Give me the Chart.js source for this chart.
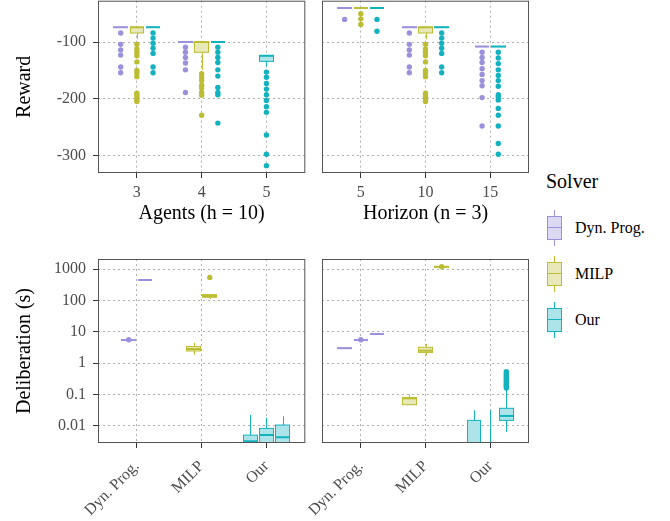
<!DOCTYPE html>
<html>
<head>
<meta charset="utf-8">
<script src="https://cdn.jsdelivr.net/npm/chart.js@4.4.1/dist/chart.umd.min.js"></script>
<style>
  body { margin: 0; background: #fff; width: 670px; height: 521px; position: relative; overflow: hidden; font-family: "Liberation Serif", serif; }
  canvas { position: absolute; }
  .lg { position: absolute; color: #000; white-space: nowrap; }
  .key { position: absolute; left: 547px; width: 15px; height: 36px; }
  .key div { position: absolute; box-sizing: border-box; }
</style>
</head>
<body>
<canvas id="rewardAgents" width="308" height="242" style="left:0;top:-2px"></canvas>
<canvas id="rewardHorizon" width="226" height="242" style="left:308px;top:-2px"></canvas>
<canvas id="timeAgents" width="308" height="281" style="left:0;top:240px"></canvas>
<canvas id="timeHorizon" width="226" height="281" style="left:308px;top:240px"></canvas>
<div id="legend"></div>
<script>
const solvers = ['Dyn. Prog.', 'MILP', 'Our'];
const solverColors = ['#9a91dd', '#bcbd33', '#12b3bf'];
const agents = ['3', '4', '5'];
const horizons = ['5', '10', '15'];
const rewardTicks = [-100, -200, -300];
const timeTicks = [0.01, 0.1, 1, 10, 100, 1000];

// box stats per x category: [lower whisker, q1, median, q3, upper whisker], null = not run
// reward vs agents (h = 10)
const rewardAgentsDP = [[-74, -74, -74, -74, -74], [-100, -100, -100, -100, -100], null];
const rewardAgentsMILP = [[-95, -84, -74, -74, -74], [-149, -118, -100, -100, -100], null];
const rewardAgentsOur = [[-74, -74, -74, -74, -74], [-100, -100, -100, -100, -100], [-143, -134, -124, -124, -124]];
const rewardAgentsDPOut = [[-84, -104, -114, -123, -144, -154], [-109, -118, -127, -137, -149, -189], []];
const rewardAgentsMILPOut = [[-104, -112, -118, -124, -135, -150, -155, -161, -190, -193, -197, -202, -205], [-156, -162, -168, -176, -181, -189, -194, -229], []];
const rewardAgentsOurOut = [[-84, -93, -102, -111, -120, -144, -154], [-109, -118, -127, -136, -149, -160, -180, -189, -193, -243], [-153, -162, -173, -183, -193, -203, -214, -224, -264, -298, -318]];

// reward vs horizon (n = 3)
const rewardHorizonDP = [[-40, -40, -40, -40, -40], [-74, -74, -74, -74, -74], [-108, -108, -108, -108, -108]];
const rewardHorizonMILP = [[-40, -40, -40, -40, -40], [-95, -84, -74, -74, -74], null];
const rewardHorizonOur = [[-40, -40, -40, -40, -40], [-74, -74, -74, -74, -74], [-108, -108, -108, -108, -108]];
const rewardHorizonDPOut = [[-60], [-84, -104, -114, -123, -144, -154], [-118, -127, -136, -147, -157, -168, -177, -198, -248]];
const rewardHorizonMILPOut = [[-50, -59, -69], [-104, -112, -118, -124, -135, -150, -155, -161, -190, -193, -197, -202, -205], []];
const rewardHorizonOurOut = [[-60, -81], [-84, -93, -102, -111, -120, -144, -154], [-118, -128, -138, -149, -159, -168, -178, -193, -197, -202, -217, -229, -248, -279, -298]];

// deliberation time (s) vs agents, one entry per agent count
const timeAgentsDP = [[5.3, 5.4, 5.5, 5.6, 5.7], [440, 450, 455, 460, 470], null];
const timeAgentsMILP = [[1.85, 2.45, 2.85, 3.4, 4.4], [110, 127, 140, 155, 155], null];
const timeAgentsOur = [[0.001, 0.002, 0.0032, 0.005, 0.022], [0.001, 0.002, 0.005, 0.0082, 0.0178], [0.001, 0.002, 0.0043, 0.0105, 0.02]];
const timeAgentsDPOut = [[5.6], [], []];
const timeAgentsMILPOut = [[], [550], []];
const timeAgentsOurOut = [[], [], []];

// deliberation time (s) vs horizon, one entry per horizon
const timeHorizonDP = [[2.95, 2.97, 3, 3.03, 3.05], [5.3, 5.4, 5.5, 5.6, 5.7], [8.3, 8.4, 8.5, 8.6, 8.7]];
const timeHorizonMILP = [[0.045, 0.047, 0.075, 0.08, 0.1], [1.75, 2.2, 2.5, 3.2, 4.1], [1150, 1180, 1200, 1220, 1250]];
const timeHorizonOur = [[0.001, 0.0015, 0.002, 0.0148, 0.031], [0.001, 0.0015, 0.002, 0.0029, 0.031], [0.0063, 0.0148, 0.0205, 0.036, 0.14]];
const timeHorizonDPOut = [[], [5.6], []];
const timeHorizonMILPOut = [[], [], [1210]];
const timeHorizonOurOut = [[], [], [0.16, 0.18, 0.2, 0.22, 0.25, 0.28, 0.31, 0.35, 0.39, 0.43, 0.48, 0.53]];

Chart.defaults.font.family = 'Liberation Serif';
const tickFont = { family: 'Liberation Serif', size: 16 };
const titleFont = { family: 'Liberation Serif', size: 20 };
const tickColor = '#4d4d4d';
const gridColor = '#b0b0b0';
const boxWidth = 0.225;
const dodgeStep = 0.25;

function fade(hex, a) {
  const n = parseInt(hex.slice(1), 16);
  return 'rgba(' + (n >> 16) + ',' + ((n >> 8) & 255) + ',' + (n & 255) + ',' + a + ')';
}

// solverOnX: x is the solver and boxes are dodged by the other variable
function buildBoxes(stats, outs, solverOnX) {
  const items = [];
  stats.forEach((arr, k) => arr.forEach((s, i) => {
    if (!s) return;
    items.push({ cat: solverOnX ? k : i, grp: solverOnX ? i : k, solver: k, stats: s, out: outs[k][i] });
  }));
  for (let c = 0; c < 3; c++) {
    const here = items.filter(b => b.cat === c).sort((a, b) => a.grp - b.grp);
    here.forEach((b, j) => { b.pos = c + 1 + (j - (here.length - 1) / 2) * dodgeStep; });
  }
  return items;
}

function boxPlugin(items) {
  return {
    id: 'boxes',
    beforeDatasetsDraw(chart) {
      const { ctx, chartArea: a, scales: { x, y } } = chart;
      ctx.save();
      ctx.beginPath();
      ctx.rect(a.left, a.top, a.right - a.left, a.bottom - a.top);
      ctx.clip();
      items.forEach(b => {
        const col = solverColors[b.solver];
        const xl = Math.round(x.getPixelForValue(b.pos - boxWidth / 2)) + 0.5;
        const xr = Math.round(x.getPixelForValue(b.pos + boxWidth / 2)) - 0.5;
        const xc = Math.round(x.getPixelForValue(b.pos)) + 0.5;
        const [lo, q1, med, q3, hi] = b.stats.map(v => y.getPixelForValue(v));
        ctx.strokeStyle = col;
        ctx.lineWidth = 1;
        ctx.beginPath();
        ctx.moveTo(xc, q3); ctx.lineTo(xc, hi);
        ctx.moveTo(xc, q1); ctx.lineTo(xc, lo);
        ctx.stroke();
        ctx.fillStyle = '#fff';
        ctx.fillRect(xl, q3, xr - xl, q1 - q3);
        ctx.fillStyle = fade(col, 0.35);
        ctx.fillRect(xl, q3, xr - xl, q1 - q3);
        ctx.strokeRect(xl, q3, xr - xl, q1 - q3);
        ctx.lineWidth = 2;
        ctx.beginPath();
        ctx.moveTo(xl - 0.5, med); ctx.lineTo(xr + 0.5, med);
        ctx.stroke();
      });
      ctx.restore();
    },
    afterDraw(chart) {
      const { ctx, chartArea: a } = chart;
      ctx.save();
      ctx.strokeStyle = '#555';
      ctx.lineWidth = 1;
      ctx.strokeRect(a.left + 0.5, a.top + 0.5, a.right - a.left - 1, a.bottom - a.top - 1);
      ctx.restore();
    }
  };
}

function noPad(s) { s.paddingLeft = 0; s.paddingRight = 0; s.paddingTop = 0; s.paddingBottom = 0; }

function makeChart(id, items, o) {
  const datasets = items.filter(b => b.out.length).map(b => ({
    data: b.out.map(v => ({ x: b.pos, y: v })),
    pointRadius: 2.7,
    pointHoverRadius: 2.7,
    pointBorderWidth: 0,
    pointBackgroundColor: solverColors[b.solver]
  }));
  new Chart(document.getElementById(id), {
    type: 'scatter',
    data: { datasets },
    plugins: [boxPlugin(items)],
    options: {
      responsive: false,
      animation: false,
      events: [],
      layout: { padding: o.padding },
      plugins: { legend: { display: false }, tooltip: { enabled: false } },
      scales: {
        x: {
          type: 'linear', min: 0.4, max: 3.6, bounds: 'data',
          afterBuildTicks: s => { s.ticks = o.xLabels.map((_, i) => ({ value: i + 1 })); },
          afterFit: s => { s.height = o.xHeight; noPad(s); },
          ticks: { callback: v => o.xLabels[v - 1], color: tickColor, font: tickFont, padding: o.xPad, minRotation: o.rot, maxRotation: o.rot, autoSkip: false },
          grid: { color: gridColor, lineWidth: 1, tickColor: '#333', tickLength: 5, tickBorderDash: [] },
          border: { display: false, dash: [2, 3] },
          title: { display: !!o.xTitle, text: o.xTitle, color: '#000', font: titleFont, padding: { top: 0, bottom: 14 } }
        },
        y: {
          type: o.yType, min: o.yMin, max: o.yMax, bounds: 'data',
          afterBuildTicks: s => { s.ticks = o.yTicks.map(v => ({ value: v })); },
          afterFit: s => { s.width = o.yWidth; noPad(s); },
          ticks: { display: !!o.yTitle, callback: v => String(v), color: tickColor, font: tickFont, padding: 7 },
          grid: { color: gridColor, lineWidth: 1, tickColor: '#333', tickLength: 5, tickBorderDash: [], drawTicks: !!o.yTitle },
          border: { display: false, dash: [2, 3] },
          title: { display: !!o.yTitle, text: o.yTitle, color: '#000', font: titleFont, padding: { top: 13, bottom: 0 } }
        }
      }
    }
  });
}

makeChart('rewardAgents',
  buildBoxes([rewardAgentsDP, rewardAgentsMILP, rewardAgentsOur], [rewardAgentsDPOut, rewardAgentsMILPOut, rewardAgentsOurOut], false),
  { xLabels: agents, xTitle: 'Agents (h = 10)', yType: 'linear', yMin: -331, yMax: -27, yTicks: rewardTicks, yTitle: 'Reward',
    yWidth: 98, xHeight: 67, xPad: 5, rot: 0, padding: { top: 1, right: 1 } });

makeChart('rewardHorizon',
  buildBoxes([rewardHorizonDP, rewardHorizonMILP, rewardHorizonOur], [rewardHorizonDPOut, rewardHorizonMILPOut, rewardHorizonOurOut], false),
  { xLabels: horizons, xTitle: 'Horizon (n = 3)', yType: 'linear', yMin: -331, yMax: -27, yTicks: rewardTicks, yTitle: '',
    yWidth: 14, xHeight: 67, xPad: 5, rot: 0, padding: { top: 1, right: 5 } });

makeChart('timeAgents',
  buildBoxes([timeAgentsDP, timeAgentsMILP, timeAgentsOur], [timeAgentsDPOut, timeAgentsMILPOut, timeAgentsOurOut], true),
  { xLabels: solvers, xTitle: '', yType: 'logarithmic', yMin: 0.0028, yMax: 2130, yTicks: timeTicks, yTitle: 'Deliberation (s)',
    yWidth: 98, xHeight: 78, xPad: 9, rot: 45, padding: { top: 19, right: 1 } });

makeChart('timeHorizon',
  buildBoxes([timeHorizonDP, timeHorizonMILP, timeHorizonOur], [timeHorizonDPOut, timeHorizonMILPOut, timeHorizonOurOut], true),
  { xLabels: solvers, xTitle: '', yType: 'logarithmic', yMin: 0.0028, yMax: 2130, yTicks: timeTicks, yTitle: '',
    yWidth: 14, xHeight: 78, xPad: 9, rot: 45, padding: { top: 19, right: 5 } });

// legend
const legend = document.getElementById('legend');
let html = '<div class="lg" style="left:546px;top:171px;font-size:20px;line-height:20px">Solver</div>';
solvers.forEach((s, k) => {
  const top = 210 + k * 46;
  const c = solverColors[k];
  html += '<div class="key" style="top:' + top + 'px">' +
    '<div style="left:7px;top:0;width:1px;height:36px;background:' + c + '"></div>' +
    '<div style="left:0;top:6px;width:15px;height:24px;background:#fff"></div>' +
    '<div style="left:0;top:6px;width:15px;height:24px;border:1px solid ' + c + ';background:' + fade(c, 0.35) + '"></div>' +
    '<div style="left:0;top:17px;width:15px;height:1px;background:' + c + '"></div>' +
    '</div>';
  html += '<div class="lg" style="left:575px;top:' + (top + 10) + 'px;font-size:16px;line-height:16px">' + s + '</div>';
});
legend.innerHTML = html;
</script>
</body>
</html>
